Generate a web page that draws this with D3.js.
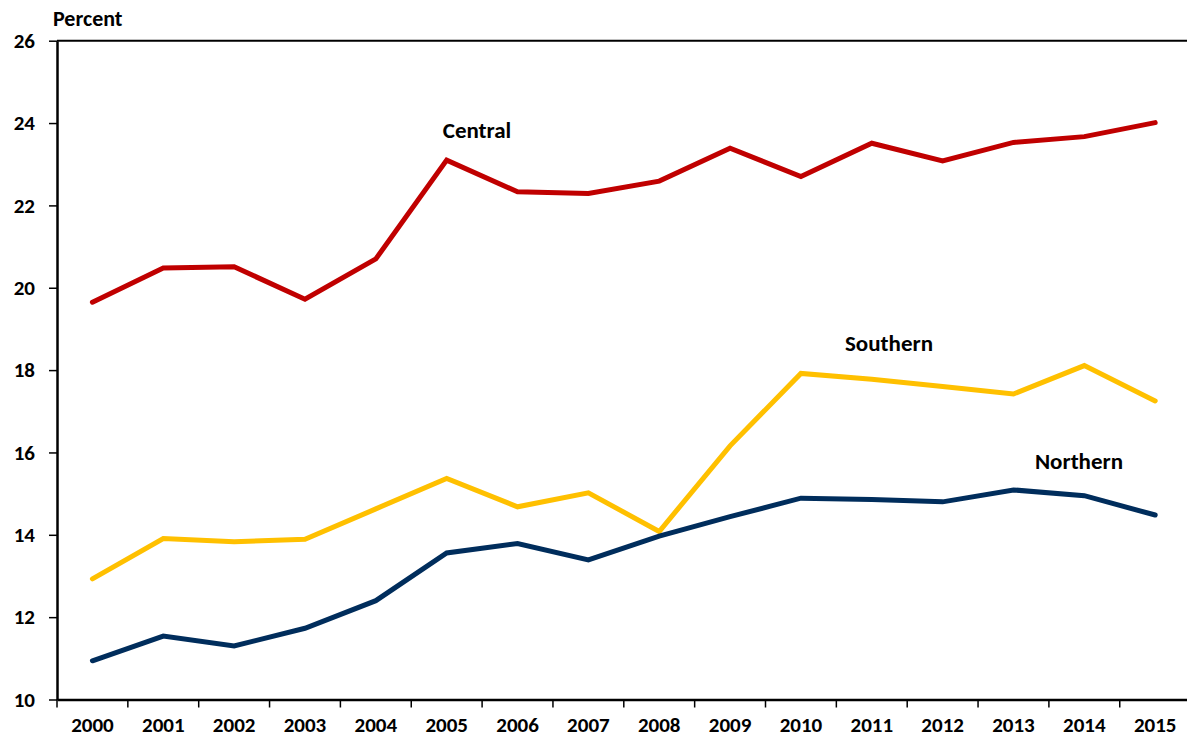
<!DOCTYPE html>
<html>
<head>
<meta charset="utf-8">
<script src="https://cdn.jsdelivr.net/npm/d3@7"></script>
<style>
  body { margin: 0; background: #fff; }
  svg text { font-family: Carlito, Calibri, Lato, "Open Sans", sans-serif; font-weight: bold; fill: #000; }
</style>
</head>
<body>
<svg id="chart"></svg>
<script>
// Data
const years = ['2000','2001','2002','2003','2004','2005','2006','2007','2008','2009','2010','2011','2012','2013','2014','2015'];
const central  = [19.65, 20.48, 20.51, 19.72, 20.70, 23.10, 22.33, 22.29, 22.59, 23.39, 22.70, 23.51, 23.08, 23.53, 23.67, 24.01];
const southern = [12.93, 13.91, 13.83, 13.89, 14.63, 15.37, 14.68, 15.02, 14.08, 16.16, 17.92, 17.78, 17.60, 17.42, 18.11, 17.25];
const northern = [10.94, 11.54, 11.30, 11.73, 12.40, 13.56, 13.79, 13.39, 13.97, 14.44, 14.89, 14.86, 14.80, 15.09, 14.95, 14.48];
const yTicks = [10, 12, 14, 16, 18, 20, 22, 24, 26];

// Dimensions
const w = 1187, h = 745;
const plotLeft = 57, plotTop = 40.7, plotBottom = 699.5;
const band = 70.85;

const svg = d3.select('#chart')
  .attr('width', w)
  .attr('height', h);

const x = d3.scaleBand()
  .domain(years)
  .range([plotLeft, plotLeft + band * years.length]);

const y = d3.scaleLinear()
  .domain([10, 26])
  .range([plotBottom, plotTop]);

// Plot frame (top line)
svg.append('line')
  .attr('x1', plotLeft).attr('x2', w)
  .attr('y1', y(26)).attr('y2', y(26))
  .attr('stroke', '#000').attr('stroke-width', 2);

// Y axis
const yAxis = svg.append('g')
  .attr('transform', `translate(${plotLeft},0)`)
  .call(d3.axisLeft(y).tickValues(yTicks).tickSize(8).tickPadding(14).tickSizeOuter(0));
yAxis.select('.domain').attr('stroke-width', 2.5);
yAxis.selectAll('.tick line').attr('stroke-width', 1.5);
yAxis.selectAll('text').style('font-size', '21px').attr('fill', '#000');

// X axis with ticks between years
const xAxis = svg.append('g')
  .attr('transform', `translate(0,${plotBottom})`)
  .call(d3.axisBottom(x).tickSize(0).tickPadding(18).tickSizeOuter(0));
xAxis.select('.domain').attr('stroke-width', 2.5);
xAxis.selectAll('text').style('font-size', '21px').attr('fill', '#000');

xAxis.selectAll('.sep')
  .data(years)
  .enter()
  .append('line')
  .attr('class', 'sep')
  .attr('x1', d => x(d)).attr('x2', d => x(d))
  .attr('y1', 0).attr('y2', 8)
  .attr('stroke', '#000').attr('stroke-width', 1.5);

// Lines
const series = [
  { name: 'Central',  values: central,  color: '#C00000', lx: 477,  ly: 130 },
  { name: 'Southern', values: southern, color: '#FFC000', lx: 889,  ly: 343 },
  { name: 'Northern', values: northern, color: '#002D5C', lx: 1079, ly: 461 }
];

const line = d3.line()
  .x((d, i) => x(years[i]) + x.bandwidth() / 2)
  .y(d => y(d));

svg.selectAll('.series')
  .data(series)
  .enter()
  .append('path')
  .attr('class', 'series')
  .attr('d', d => line(d.values))
  .attr('fill', 'none')
  .attr('stroke', d => d.color)
  .attr('stroke-width', 5)
  .attr('stroke-linecap', 'round')
  .attr('stroke-linejoin', 'miter');

// Series labels
svg.selectAll('.label')
  .data(series)
  .enter()
  .append('text')
  .attr('class', 'label')
  .attr('x', d => d.lx)
  .attr('y', d => d.ly)
  .attr('text-anchor', 'middle')
  .attr('dominant-baseline', 'central')
  .style('font-size', '23px')
  .text(d => d.name);

// Y axis title
svg.append('text')
  .attr('x', 53)
  .attr('y', 18)
  .attr('dominant-baseline', 'central')
  .style('font-size', '22px')
  .text('Percent');
</script>
</body>
</html>
